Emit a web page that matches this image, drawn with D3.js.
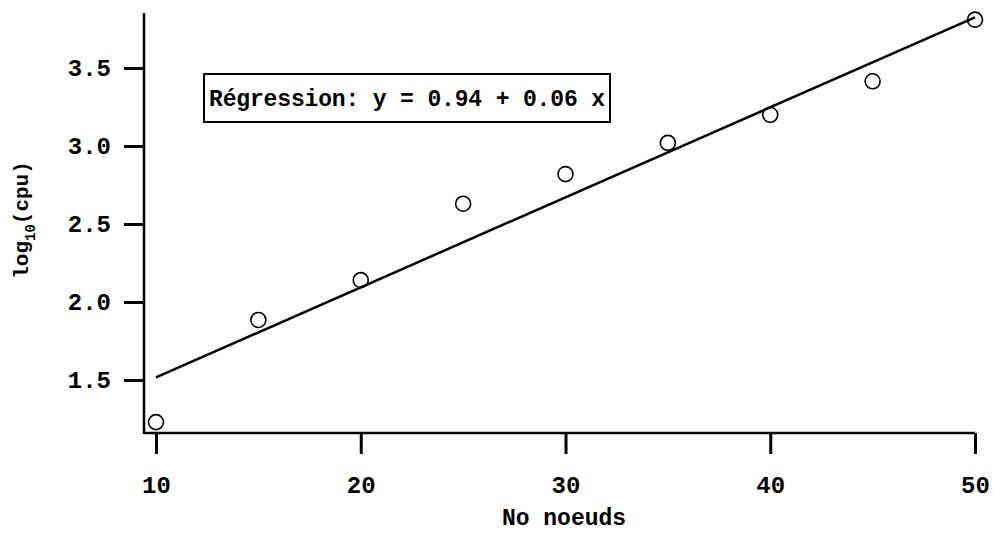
<!DOCTYPE html>
<html><head><meta charset="utf-8">
<script src="https://cdn.jsdelivr.net/npm/d3@7"></script>
<style>html,body{margin:0;padding:0;background:#fff;}svg{display:block;}</style>
</head><body>
<svg id="c" width="994" height="534"></svg>
<script>
const nodes = [10, 15, 20, 25, 30, 35, 40, 45, 50];
const logCpu = [1.23, 1.885, 2.14, 2.63, 2.82, 3.02, 3.20, 3.415, 3.81];
const xTicks = [10, 20, 30, 40, 50];
const yTicks = [1.5, 2.0, 2.5, 3.0, 3.5];
const intercept = 0.94, slope = 0.0577;
const xLabel = "No noeuds";
const boxText = "Régression: y = 0.94 + 0.06 x";

const svg = d3.select("#c");
const font = "'Liberation Mono', 'Courier New', monospace";
const x = d3.scaleLinear().domain([10, 50]).range([156, 975]);
const y = d3.scaleLinear().domain([1.5, 3.5]).range([380, 68]);

// axes
const xAxis = d3.axisBottom(x).tickValues(xTicks).tickSize(21).tickFormat(d3.format("d"));
const gx = svg.append("g").attr("transform", "translate(0,433)").call(xAxis);
gx.select(".domain").remove();
gx.append("line").attr("x1", 144).attr("x2", x(50)).attr("stroke", "#000").attr("stroke-width", 2.5);
gx.selectAll(".tick line").attr("stroke-width", 3);
gx.selectAll(".tick text").attr("y", 60).attr("dy", null).attr("font-family", font).attr("font-weight", "bold").attr("font-size", 24).attr("fill", "#000");

const yAxis = d3.axisLeft(y).tickValues(yTicks).tickSize(20).tickPadding(13).tickFormat(d3.format(".1f"));
const gy = svg.append("g").attr("transform", "translate(144,0)").call(yAxis);
gy.select(".domain").remove();
gy.append("line").attr("y1", 13).attr("y2", 434).attr("stroke", "#000").attr("stroke-width", 2.5);
gy.selectAll(".tick line").attr("stroke-width", 3);
gy.selectAll(".tick text").attr("font-family", font).attr("font-weight", "bold").attr("font-size", 24).attr("fill", "#000");

// regression line
svg.append("line")
  .attr("x1", x(10)).attr("y1", y(intercept + slope * 10))
  .attr("x2", x(50)).attr("y2", y(intercept + slope * 50))
  .attr("stroke", "#000").attr("stroke-width", 2.5);

// points
svg.append("g").selectAll("circle").data(nodes).join("circle")
  .attr("cx", d => x(d)).attr("cy", (d, i) => y(logCpu[i])).attr("r", 7.5)
  .attr("fill", "none").attr("stroke", "#000").attr("stroke-width", 1.6);

// box
svg.append("rect").attr("x", 204).attr("y", 74).attr("width", 406).attr("height", 48)
  .attr("fill", "#fff").attr("stroke", "#000").attr("stroke-width", 2);
svg.append("text").attr("x", 407).attr("y", 106).attr("text-anchor", "middle")
  .attr("font-family", font).attr("font-weight", "bold").attr("font-size", 23).attr("textLength", 396).text(boxText);

// axis titles
svg.append("text").attr("x", 564).attr("y", 525).attr("text-anchor", "middle")
  .attr("font-family", font).attr("font-weight", "bold").attr("font-size", 23).text(xLabel);
const yt = svg.append("text").attr("transform", "translate(28,220) rotate(-90)").attr("text-anchor", "middle")
  .attr("font-family", font).attr("font-weight", "bold").attr("font-size", 21);
yt.append("tspan").text("log");
yt.append("tspan").attr("font-size", 14).attr("dy", 7).text("10");
yt.append("tspan").attr("dy", -7).text("(cpu)");
</script>
</body></html>
